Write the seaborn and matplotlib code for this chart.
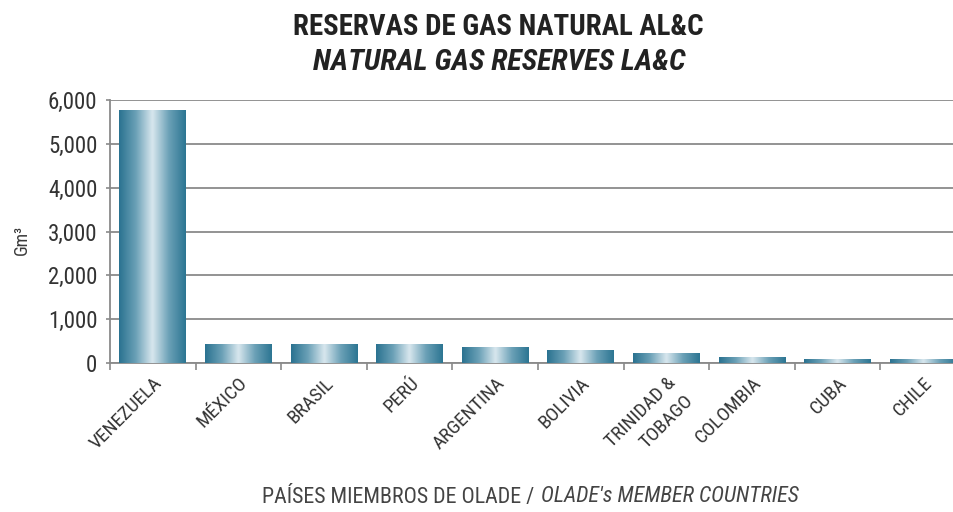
import numpy as np
import matplotlib
matplotlib.use('Agg')
import matplotlib.pyplot as plt
from matplotlib.colors import LinearSegmentedColormap
import seaborn as sns
import pandas as pd

countries = ['VENEZUELA', 'MÉXICO', 'BRASIL', 'PERÚ', 'ARGENTINA', 'BOLIVIA',
             'TRINIDAD &\nTOBAGO', 'COLOMBIA', 'CUBA', 'CHILE']
reserves = [5770, 432, 432, 432, 365, 275, 212, 130, 90, 80]
yticks = [0, 1000, 2000, 3000, 4000, 5000, 6000]

df = pd.DataFrame({'country': countries, 'gm3': reserves})

sns.set_theme(style='white')
FONT = ['Roboto Condensed', 'Archivo Narrow', 'DejaVu Sans']
plt.rcParams['font.family'] = FONT

fig = plt.figure(figsize=(9.54, 5.12), dpi=100)
ax = fig.add_axes([110 / 954, 1 - 363 / 512, 856 / 954, 263 / 512])

sns.barplot(data=df, x='country', y='gm3', ax=ax, width=0.78,
            color='#3d86a2', saturation=1, linewidth=0)

# gradient fill on each bar
cmap = LinearSegmentedColormap.from_list(
    'bar', ['#2a7290', '#6aa0b6', '#d8e7ee', '#6aa0b6', '#2c7592'])
grad = np.linspace(0, 1, 256).reshape(1, -1)
for p in ax.patches:
    x0, y0 = p.get_x(), p.get_y()
    w, h = p.get_width(), p.get_height()
    ax.imshow(grad, extent=[x0, x0 + w, y0, y0 + h], aspect='auto',
              cmap=cmap, zorder=3, interpolation='bicubic')
    p.set_facecolor('none')

ax.set_xlim(-0.5, len(countries) - 0.5)
ax.set_ylim(0, 6000)
ax.set_yticks(yticks)
ax.set_yticklabels([f'{v:,}' for v in yticks], fontsize=16.5, color='#333333')
ax.yaxis.grid(True, color='#8a8a8a', linewidth=1.3)
ax.set_axisbelow(True)

for s in ['top', 'right']:
    ax.spines[s].set_visible(False)
for s in ['left', 'bottom']:
    ax.spines[s].set_color('#8a8a8a')
    ax.spines[s].set_linewidth(1.3)

ax.tick_params(axis='y', length=3, width=1.2, color='#8a8a8a', pad=6, left=True)
ax.set_xticks(np.arange(len(countries)))
ax.set_xticklabels(countries, rotation=45, ha='right', rotation_mode='anchor',
                   fontsize=14, color='#333333', linespacing=1.45)
ax.tick_params(axis='x', length=0, pad=8)
ax.set_xticks(np.arange(len(countries) + 1) - 0.5, minor=True)
ax.tick_params(axis='x', which='minor', length=5, width=1.2, color='#8a8a8a', bottom=True)

ax.set_xlabel('')
ax.set_ylabel('')
fig.text(22 / 954, 1 - 240 / 512, 'Gm³', rotation=90, ha='center', va='center',
         fontsize=13, color='#3a3a3a')

fig.canvas.draw()
r = fig.canvas.get_renderer()


def fit(t, target):
    # scale font so the text spans the same width as in the reference
    w = t.get_window_extent(r).width
    t.set_fontsize(t.get_fontsize() * target / w)


t_a = fig.text(498 / 954, 1 - 27 / 512, 'RESERVAS DE GAS NATURAL AL&C', ha='center',
               va='center', fontsize=22, fontweight='bold', color='#222222')
t_b = fig.text(499 / 954, 1 - 62 / 512, 'NATURAL GAS RESERVES LA&C', ha='center',
               va='center', fontsize=22, fontweight='bold', fontstyle='italic',
               color='#222222')
fit(t_a, 410)
fit(t_b, 372)

# x axis title, upright part then italic part
t1 = fig.text(0, 1 - 497 / 512, 'PAÍSES MIEMBROS DE OLADE / ', va='center',
              fontsize=14, color='#444444')
t2 = fig.text(0, 1 - 497 / 512, "OLADE's MEMBER COUNTRIES", va='center',
              fontsize=14, fontstyle='italic', color='#444444')
w1 = t1.get_window_extent(r).width
w2 = t2.get_window_extent(r).width
k = 536 / (w1 + w2)
t1.set_fontsize(14 * k)
t2.set_fontsize(14 * k)
w1 *= k
w2 *= k
start = 530 - (w1 + w2) / 2
t1.set_x(start / 954)
t2.set_x((start + w1) / 954)

fig.savefig('out.png', dpi=100)
